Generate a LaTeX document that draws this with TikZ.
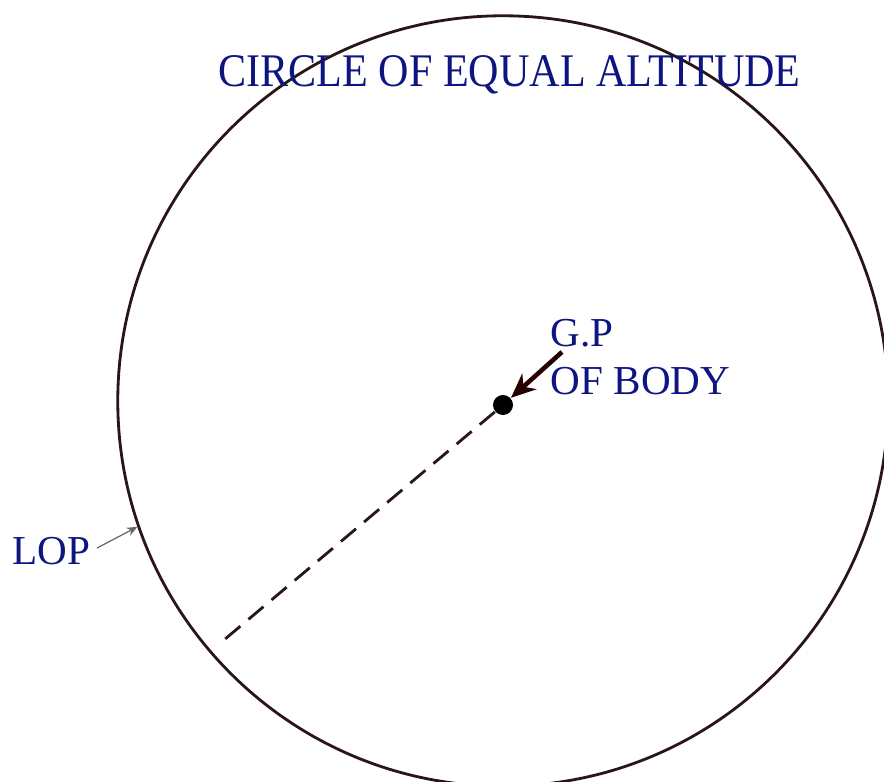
\documentclass[tikz,border=0pt]{standalone}
\usepackage{fontspec}
\setmainfont{Liberation Serif}
\newfontfamily\titlefont[FakeStretch=0.9]{Liberation Serif}
\usetikzlibrary{arrows.meta}
\definecolor{navytext}{RGB}{14,20,128}
\definecolor{linebrown}{RGB}{42,22,22}
\begin{document}
\begin{tikzpicture}[x=0.01cm,y=-0.01cm,
  lbl/.style={anchor=base west, inner sep=0, text=navytext, font=\fontsize{11.7}{14}\selectfont},
  ttl/.style={anchor=base west, inner sep=0, text=navytext, font=\titlefont\fontsize{13.3}{15}\selectfont},
  ring/.style={circle, draw=linebrown, line width=0.8pt, inner sep=0, minimum size=7.7cm},
  gpdot/.style={circle, fill=black, inner sep=0, minimum size=0.2cm},
  radial/.style={draw=linebrown, line width=0.8pt, dash pattern=on 5.6pt off 3pt},
  bigarrow/.style={draw=black!85!red, line width=1.3pt, -{Stealth[length=7pt,width=6pt]}},
  thinarrow/.style={draw=black!60, line width=0.35pt, -{Stealth[length=3pt,width=2.5pt]}}]
\useasboundingbox (0,0) rectangle (884,782);
\clip (0,0) rectangle (884,782);
\node[ring] (circ) at (503,401) {};
\node[gpdot] (gp) at (503,405) {};
\coordinate (dashend) at (218,645);
\draw[radial] (gp) -- (dashend);
\node[ttl] (title) at (218,87) {CIRCLE OF EQUAL ALTITUDE};
\node[lbl] (gplbl) at (550,347) {G.P};
\node[lbl] (body) at (550,395) {OF BODY};
\coordinate (gptail) at (562,352);
\draw[bigarrow] (gptail) -- (gp);
\node[lbl] (lop) at (12,565) {LOP};
\coordinate (loptail) at (97,548);
\draw[thinarrow] (loptail) -- (circ.199.3);
\end{tikzpicture}
\end{document}
